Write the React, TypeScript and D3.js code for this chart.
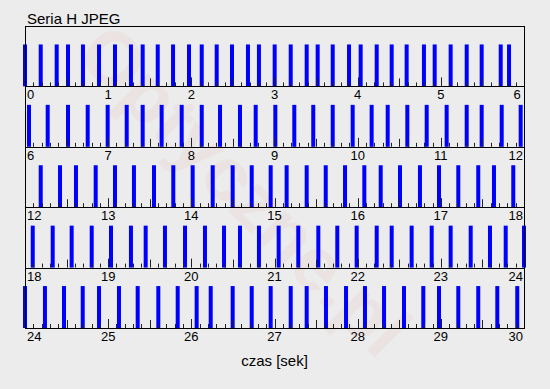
import * as d3 from "d3";

// czasy klatek [s]
const klatki = [
  0, 0.189, 0.381, 0.517, 0.697, 0.89, 1.082, 1.274, 1.415, 1.596, 1.78, 1.972,
  2.125, 2.305, 2.489, 2.681, 2.813, 3.002, 3.195, 3.387, 3.519, 3.7, 3.896,
  4.036, 4.229, 4.409, 4.589, 4.797, 4.926, 5.118, 5.311, 5.491, 5.72, 5.82,
  6.048, 6.273, 6.517, 6.754, 6.994, 7.223, 7.415, 7.643, 7.884, 8.125, 8.345,
  8.585, 8.774, 9.01, 9.238, 9.466, 9.7, 9.94, 10.168, 10.361, 10.597, 10.83,
  11.07, 11.311, 11.491, 11.732, 11.96,
  12.189, 12.421, 12.613, 12.85, 13.082, 13.31, 13.551, 13.783, 14.016, 14.257,
  14.497, 14.726, 14.954, 15.146, 15.387, 15.616, 15.848, 16.08, 16.277,
  16.509, 16.749, 16.978, 17.21, 17.45, 17.639, 17.871,
  18.093, 18.333, 18.561, 18.802, 19.034, 19.274, 19.451, 19.683, 19.924,
  20.164, 20.393, 20.585, 20.813, 21.05, 21.286, 21.527, 21.755, 21.988,
  22.229, 22.409, 22.649, 22.89, 23.118, 23.359, 23.591, 23.78, 24.0,
  24.24, 24.469, 24.694, 24.89, 25.13, 25.355, 25.603, 25.836, 26.064, 26.233,
  26.497, 26.726, 26.954, 27.195, 27.387, 27.619, 27.86, 28.088, 28.317,
  28.557, 28.789, 28.978, 29.21, 29.45, 29.679, 29.919,
];

const wiersze = [0, 6, 12, 18, 24, 30];
const tytul = "Seria H JPEG";
const osX = "czas [sek]";

const W = 550;
const H = 389;
const left = 25;
const right = 524;
const top = 26;
const bottom = 328;
const font = "'Liberation Sans', Arial, Helvetica, sans-serif";

export default function App() {
  const nRows = wiersze.length - 1;
  const rowH = (bottom - top) / nRows;

  const rows = d3.range(nRows).map((i) => {
    const t0 = wiersze[i];
    const t1 = wiersze[i + 1];
    const x = d3.scaleLinear().domain([t0, t1]).range([left, right]);
    const base = top + (i + 1) * rowH;
    const y = d3.scaleLinear().domain([0, 1.44]).range([base, base - rowH]);
    const bars = klatki.filter((t) => t >= t0 - 0.005 && t <= t1 + 0.005);
    const ticks = d3.range(0, Math.round((t1 - t0) * 10) + 1).map((k) => ({
      t: t0 + k / 10,
      len: k % 10 === 0 ? 9 : k % 5 === 0 ? 8 : 4,
    }));
    const labels = x.ticks(6).map((v, j, arr) => {
      let anchor = "middle";
      let px = x(v);
      if (j === 0) {
        anchor = "start";
        px = left + 2;
      } else if (j === arr.length - 1) {
        if (String(v).length > 1) {
          anchor = "end";
          px = right - 1;
        } else {
          px = right - 7;
        }
      }
      return { v, px, anchor };
    });
    return { i, x, y, base, bars, ticks, labels };
  });

  return (
    <svg
      width={W}
      height={H}
      style={{ position: "absolute", left: 0, top: 0, display: "block" }}
      fontFamily={font}
    >
      <rect width={W} height={H} fill="#ececec" />
      {/* znak wodny */}
      <text
        transform="translate(245,190) rotate(45)"
        textAnchor="middle"
        dominantBaseline="central"
        fontSize={76}
        fontWeight="bold"
        fill="#d40000"
        opacity={0.035}
      >
        Optyczne.pl
      </text>

      {rows.map((r) => (
        <g key={r.i}>
          {r.bars.map((t, k) => (
            <rect
              key={k}
              x={r.x(t) - 2}
              y={r.y(1)}
              width={4}
              height={r.base - r.y(1)}
              fill="#0000ff"
            />
          ))}
          {r.ticks.map((tk, k) => (
            <line
              key={k}
              x1={Math.round(r.x(tk.t)) + 0.5}
              x2={Math.round(r.x(tk.t)) + 0.5}
              y1={r.base}
              y2={r.base - tk.len}
              stroke="#222"
              strokeWidth={1}
            />
          ))}
          <line
            x1={left}
            x2={right}
            y1={Math.round(r.base) + 0.5}
            y2={Math.round(r.base) + 0.5}
            stroke="#000"
          />
          {r.labels.map((l, k) => (
            <text
              key={k}
              x={l.px}
              y={r.base + 13}
              textAnchor={l.anchor}
              fontSize={13}
              fill="#000"
            >
              {l.v}
            </text>
          ))}
        </g>
      ))}

      <rect
        x={left + 0.5}
        y={top + 0.5}
        width={right - left}
        height={bottom - top}
        fill="none"
        stroke="#000"
      />
      <text x={27} y={24} fontSize={15} fill="#000">
        {tytul}
      </text>
      <text x={(left + right) / 2} y={366} fontSize={15} textAnchor="middle" fill="#000">
        {osX}
      </text>
    </svg>
  );
}
